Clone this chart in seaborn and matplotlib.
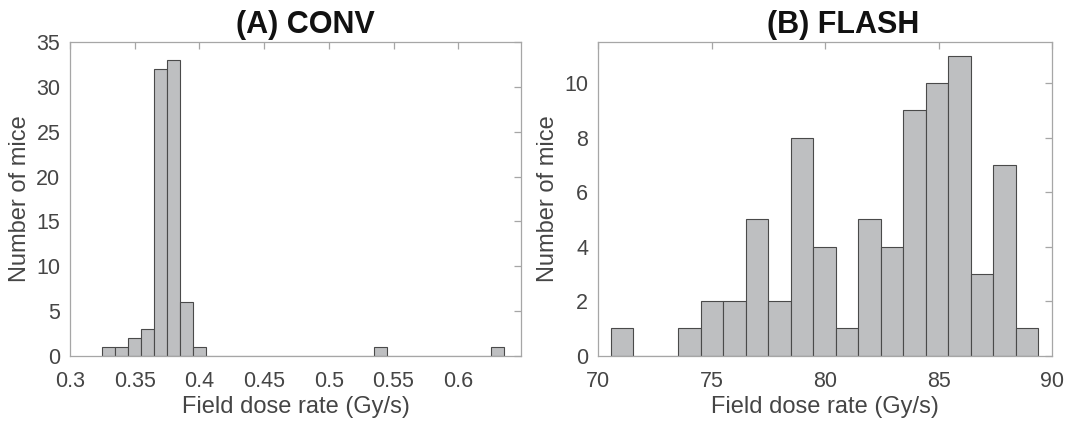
import numpy as np
import pandas as pd
import matplotlib
matplotlib.use("Agg")
import matplotlib.pyplot as plt
import seaborn as sns

# ---- data ----
conv_edges = [round(0.325 + 0.01 * i, 3) for i in range(32)]  # 0.325 .. 0.635
conv_centers = [round(0.33 + 0.01 * i, 3) for i in range(31)]
conv_counts = [1, 1, 2, 3, 32, 33, 6, 1,
               0, 0, 0, 0, 0, 0, 0, 0, 0, 0, 0, 0, 0, 1,
               0, 0, 0, 0, 0, 0, 0, 0, 1]

flash_lo, flash_hi, flash_nbins = 70.57, 89.40, 19
flash_counts = [1, 0, 0, 1, 2, 2, 5, 2, 8, 4, 1, 5, 4, 9, 10, 11, 3, 7, 1]

conv_xticks = [0.3, 0.35, 0.4, 0.45, 0.5, 0.55, 0.6]
conv_xticklabels = ["0.3", "0.35", "0.4", "0.45", "0.5", "0.55", "0.6"]
conv_yticks = [0, 5, 10, 15, 20, 25, 30, 35]
flash_xticks = [70, 75, 80, 85, 90]
flash_yticks = [0, 2, 4, 6, 8, 10]

titles = ["(A) CONV", "(B) FLASH"]
xlabel = "Field dose rate (Gy/s)"
ylabel = "Number of mice"

# ---- style ----
sns.set_theme(style="white")
plt.rcParams["font.family"] = ["Liberation Sans", "DejaVu Sans"]

face = "#bebfc1"
edge = "#4a4a4a"
axcol = "#a6a6a6"
txtcol = "#454545"

fig = plt.figure(figsize=(10.67, 4.26), dpi=100)
axA = fig.add_axes([70 / 1067, 1 - 355.7 / 426, 451 / 1067, 313.4 / 426])
axB = fig.add_axes([598 / 1067, 1 - 355.7 / 426, 454 / 1067, 313.4 / 426])

flash_edges = [float(v) for v in np.linspace(flash_lo, flash_hi, flash_nbins + 1)]
flash_centers = [(a + b) / 2 for a, b in zip(flash_edges[:-1], flash_edges[1:])]

dfA = pd.DataFrame({"rate": conv_centers, "n": conv_counts})
dfB = pd.DataFrame({"rate": flash_centers, "n": flash_counts})

sns.histplot(data=dfA, x="rate", weights="n", bins=conv_edges, ax=axA,
             color=face, edgecolor=edge, linewidth=0.8, alpha=1)
sns.histplot(data=dfB, x="rate", weights="n", bins=flash_edges, ax=axB,
             color=face, edgecolor=edge, linewidth=0.8, alpha=1)

axA.set_xlim(0.3, 0.6485)
axA.set_ylim(0, 35)
axA.set_xticks(conv_xticks)
axA.set_xticklabels(conv_xticklabels)
axA.set_yticks(conv_yticks)

axB.set_xlim(70, 90)
axB.set_ylim(0, 11.5)
axB.set_xticks(flash_xticks)
axB.set_yticks(flash_yticks)

for ax, t, tx in zip([axA, axB], titles, [0.521, 0.54]):
    for s in ax.spines.values():
        s.set_visible(True)
        s.set_color(axcol)
        s.set_linewidth(0.9)
    ax.tick_params(direction="in", top=True, right=True, length=5, width=0.9,
                   color=axcol, labelsize=15.5, labelcolor=txtcol)
    ax.tick_params(axis="x", pad=11)
    ax.tick_params(axis="y", pad=7)
    ax.set_xlabel(xlabel, fontsize=17, color=txtcol, labelpad=3)
    ax.set_ylabel(ylabel, fontsize=17, color=txtcol, labelpad=4)
    ax.set_title(t, fontsize=22, fontweight="bold", color="#111111", x=tx, pad=7)
    ax.grid(False)

fig.savefig("out.png", dpi=100, facecolor="white")
